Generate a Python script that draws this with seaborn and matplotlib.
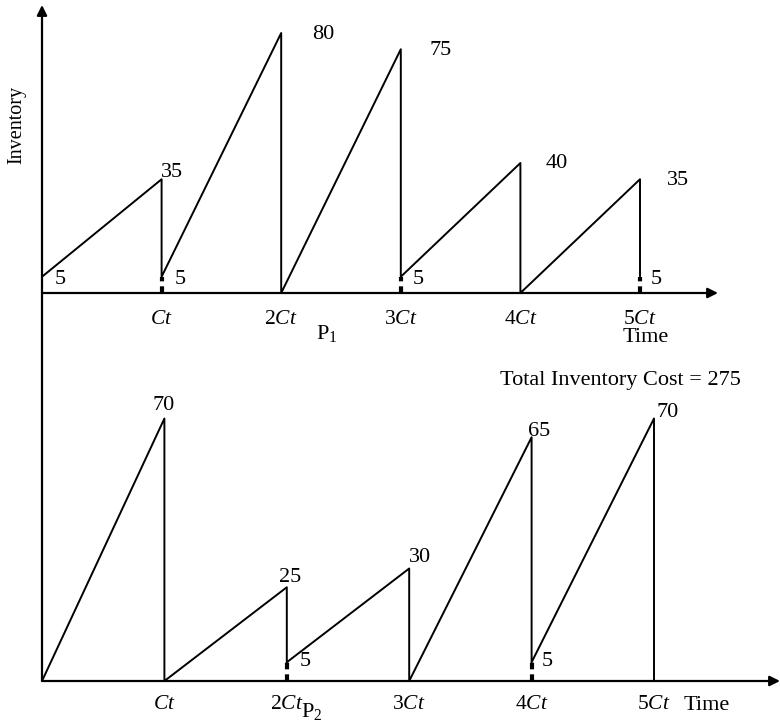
import matplotlib
matplotlib.use("Agg")
import matplotlib.pyplot as plt
import seaborn as sns
import pandas as pd

# P1 schedule: (start level, peak level) for each of the five cycles
p1_start = [5, 5, 0, 5, 0]
p1_peak = [35, 80, 75, 40, 35]
p1_end = [5, 0, 5, 0, 5]     # level the vertical drop reaches
# P2 schedule
p2_start = [0, 0, 5, 0, 5]
p2_peak = [70, 25, 30, 65, 70]
p2_end = [0, 5, 0, 5, 0]
tick_labels = [r'$\mathit{Ct}$', r'2$\mathit{Ct}$', r'3$\mathit{Ct}$',
               r'4$\mathit{Ct}$', r'5$\mathit{Ct}$']
total_cost = 275

sns.set_theme(style="white")
plt.rcParams['font.family'] = ['Liberation Serif', 'DejaVu Serif']
plt.rcParams['text.color'] = 'black'
plt.rcParams['xtick.color'] = 'black'
plt.rcParams['mathtext.fontset'] = 'custom'
plt.rcParams['mathtext.rm'] = 'Liberation Serif'
plt.rcParams['mathtext.it'] = 'Liberation Serif:italic'

W, H = 780, 724
fig = plt.figure(figsize=(W / 100, H / 100), dpi=100)


def px_axes(left, right, top, bottom):
    ax = fig.add_axes([left / W, 1 - bottom / H, (right - left) / W, (bottom - top) / H])
    ax.patch.set_alpha(0)
    return ax


def saw(start, peak, end):
    t, lvl = [], []
    for i in range(len(peak)):
        t += [i, i + 1, i + 1]
        lvl += [start[i], peak[i], end[i]]
    return pd.DataFrame({'t': t, 'level': lvl})


def draw(ax, start, peak, end, xmax, ymax, arrow_y, pad):
    df = saw(start, peak, end)
    sns.lineplot(data=df, x='t', y='level', sort=False, estimator=None,
                 color='black', lw=1.4, ax=ax)
    # thick dashed stubs where stock is not fully depleted
    for i, e in enumerate(end):
        if e > 0:
            ax.plot([i + 1, i + 1], [0, e], color='black', lw=3,
                    linestyle=(0, (1.6, 1.2)), solid_capstyle='butt')
    ax.set_xlim(0, xmax)
    ax.set_ylim(0, ymax)
    for s in ax.spines.values():
        s.set_visible(False)
    ax.annotate('', xy=(1, 0), xytext=(0, 0), xycoords='axes fraction',
                arrowprops=dict(arrowstyle='-|>', color='black', lw=1.6,
                                mutation_scale=15, shrinkA=0, shrinkB=0))
    ax.annotate('', xy=(0, 1), xytext=(0, 0), xycoords='axes fraction',
                arrowprops=dict(arrowstyle='-|>' if arrow_y else '-', color='black',
                                lw=1.6, mutation_scale=15, shrinkA=0, shrinkB=0))
    ax.set_xticks(range(1, 6))
    ax.set_xticklabels(tick_labels, fontsize=15.5)
    ax.set_yticks([])
    ax.tick_params(axis='x', length=0, pad=pad)
    ax.set_xlabel('')
    ax.set_ylabel('')


# top panel: P1
ax1 = px_axes(42, 718, 5, 293)
draw(ax1, p1_start, p1_peak, p1_end, 676 / 119.6, 288 / 3.25, True, 12)
top_lbl = [(0.15, 4.3, '5'), (1.09, 37.2, '35'), (1.16, 4.3, '5'),
           (2.35, 79.4, '80'), (3.33, 74.5, '75'), (3.15, 4.3, '5'),
           (4.30, 39.7, '40'), (5.32, 34.5, '35'), (5.14, 4.3, '5')]
for x, y, s in top_lbl:
    ax1.text(x, y, s, fontsize=16, ha='center', va='center')

# bottom panel: P2
ax2 = px_axes(42, 780, 293, 681)
draw(ax2, p2_start, p2_peak, p2_end, 738 / 122.4, 388 / 3.75, False, 10)
bot_lbl = [(0.99, 73.6, '70'), (2.03, 27.5, '25'), (2.15, 5.1, '5'),
           (3.09, 33.0, '30'), (4.06, 66.4, '65'), (4.13, 5.1, '5'),
           (5.11, 71.7, '70')]
for x, y, s in bot_lbl:
    ax2.text(x, y, s, fontsize=16, ha='center', va='center')

fig.text(17 / W, 1 - 125 / H, 'Inventory', rotation=90, fontsize=14.5,
         ha='center', va='center')
fig.text(327 / W, 1 - 333 / H, r'P$_1$', fontsize=16, ha='center', va='center')
fig.text(646 / W, 1 - 337 / H, 'Time', fontsize=16, ha='center', va='center')
fig.text(620 / W, 1 - 381 / H, f'Total Inventory Cost = {total_cost}', fontsize=16,
         ha='center', va='center')
fig.text(312 / W, 1 - 712 / H, r'P$_2$', fontsize=16, ha='center', va='center')
fig.text(707 / W, 1 - 705 / H, 'Time', fontsize=16, ha='center', va='center')

fig.savefig('out.png', dpi=100)
